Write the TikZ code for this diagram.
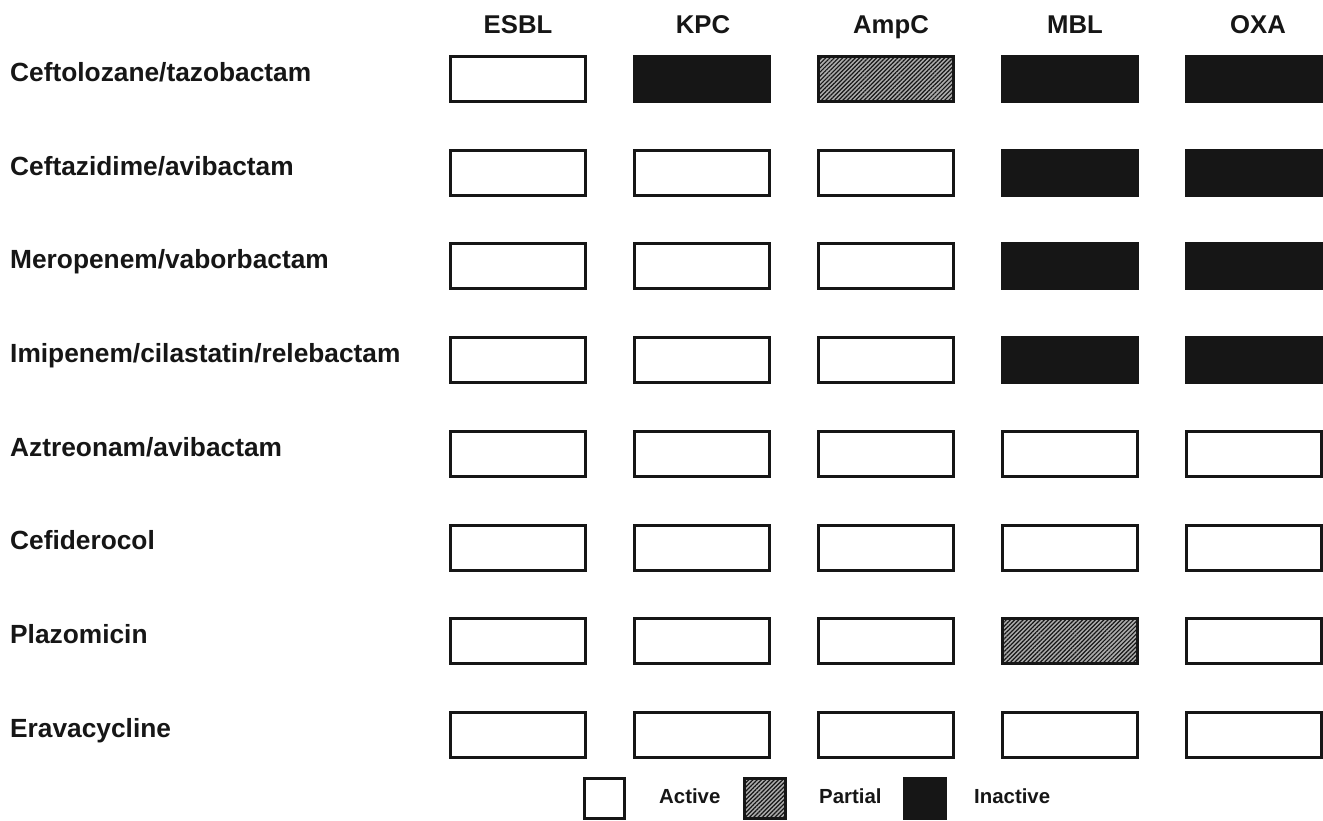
\documentclass[tikz,border=0pt]{standalone}
\usepackage{fontspec}
\setmainfont{Liberation Sans}
\usetikzlibrary{patterns.meta}
\definecolor{ink}{HTML}{161616}
\begin{document}
\begin{tikzpicture}[x=1pt,y=-1pt,
  cellbase/.style={inner sep=0pt, outer sep=0pt},
  cellA/.style={cellbase, draw=ink, line width=3pt, fill=white, minimum width=135pt, minimum height=45pt},
  cellP/.style={cellbase, draw=ink, line width=3pt, fill=gray!65,
      postaction={pattern={Lines[angle=45,distance=3pt,line width=1.2pt]}, pattern color=ink},
      minimum width=135pt, minimum height=45pt},
  cellI/.style={cellbase, fill=ink, minimum width=138pt, minimum height=48pt},
  legA/.style={cellA, minimum width=40pt, minimum height=40pt},
  legP/.style={cellP, minimum width=41pt, minimum height=40pt},
  legI/.style={cellI, minimum width=44pt, minimum height=43pt},
  hdr/.style={inner sep=0pt, anchor=base, font=\bfseries\fontsize{25.7}{30}\selectfont, text=ink},
  rowlab/.style={inner sep=0pt, anchor=base west, font=\bfseries\fontsize{26.3}{30}\selectfont, text=ink},
  leglab/.style={inner sep=0pt, anchor=base west, font=\bfseries\fontsize{20.4}{24}\selectfont, text=ink}]
\useasboundingbox (0,0) rectangle (1323,820);

% column headers
\node[hdr] (hESBL) at (518,33) {ESBL};
\node[hdr] (hKPC)  at (703,33) {KPC};
\node[hdr] (hAmpC) at (891,33) {AmpC};
\node[hdr] (hMBL)  at (1075,33) {MBL};
\node[hdr] (hOXA)  at (1258,33) {OXA};

% rows
\foreach \r/\lab/\states in {
  1/Ceftolozane\slash tazobactam/{A,I,P,I,I},
  2/Ceftazidime\slash avibactam/{A,A,A,I,I},
  3/Meropenem\slash vaborbactam/{A,A,A,I,I},
  4/Imipenem\slash cilastatin\slash relebactam/{A,A,A,I,I},
  5/Aztreonam\slash avibactam/{A,A,A,A,A},
  6/Cefiderocol/{A,A,A,A,A},
  7/Plazomicin/{A,A,A,P,A},
  8/Eravacycline/{A,A,A,A,A}} {
  \pgfmathsetmacro{\top}{55+93.7*(\r-1)}
  \node[rowlab] (lab\r) at (10,\top+26.3) {\lab};
  \foreach \st [count=\c] in \states {
    \node[cell\st] (r\r c\c) at ({518+184*(\c-1)}, \top+24) {};
  }
}

% legend
\node[legA] (legActive) at (604.5,798) {};
\node[leglab] (tActive) at (659,803.5) {Active};
\node[legP] (legPartial) at (765,798.5) {};
\node[leglab] (tPartial) at (819,803.5) {Partial};
\node[legI] (legInactive) at (925,798.5) {};
\node[leglab] (tInactive) at (974,803.5) {Inactive};
\end{tikzpicture}
\end{document}
